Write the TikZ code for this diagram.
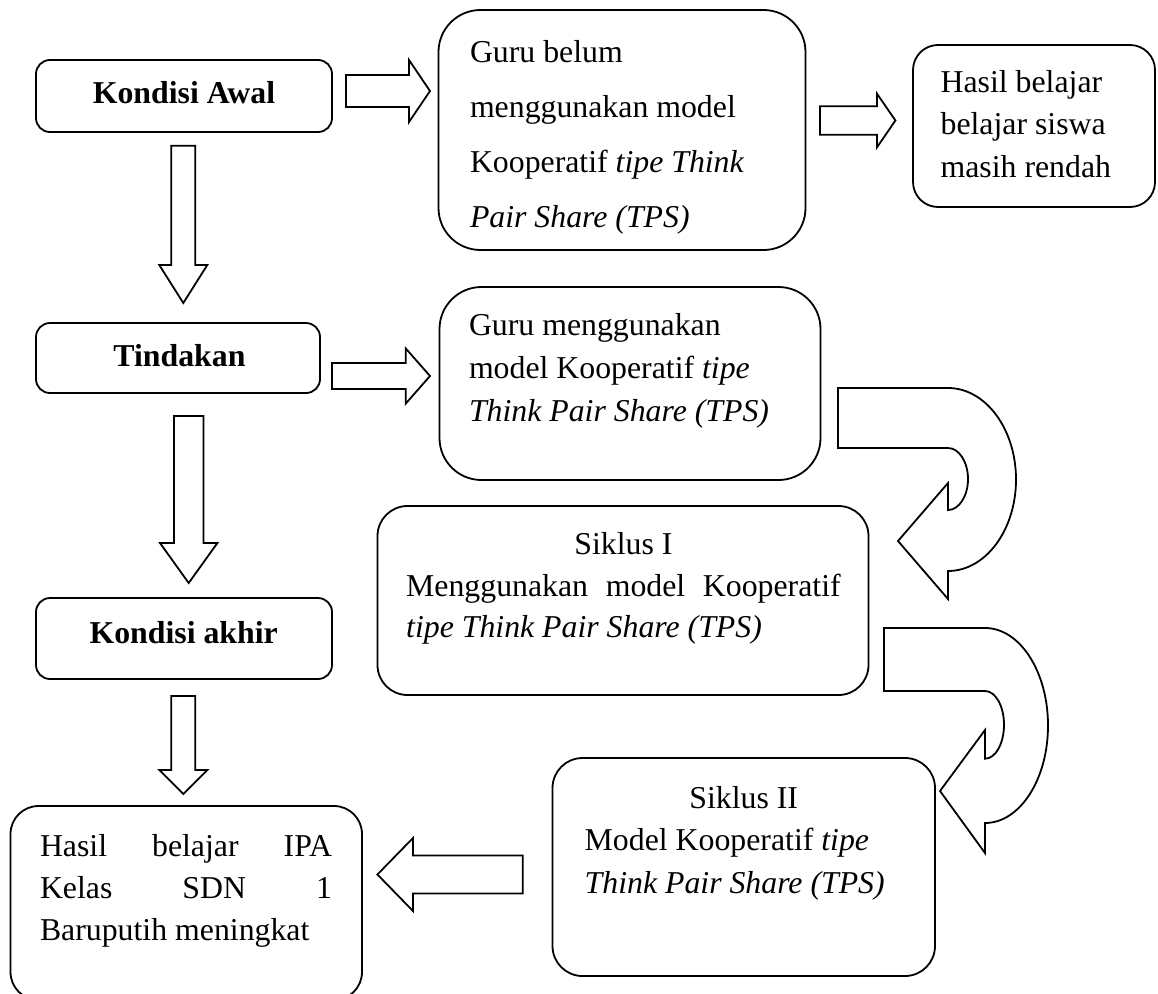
\documentclass[tikz,border=0pt]{standalone}
\usepackage{fontspec}
\setmainfont{Liberation Serif}
\usetikzlibrary{calc}
\tikzset{
  box/.style={draw, line width=1.8pt, inner sep=0pt, outer sep=0pt},
  blk/.style={draw, line width=1.8pt, line join=miter, fill=white},
  txt/.style={inner sep=0pt, outer sep=0pt, font=\fontsize{31.8}{42}\selectfont},
}
% block arrows: tail, tip, shaft half width, head half width, head length
\newcommand\rblock[5]{\draw[blk] ($(#1)+(0,-#3)$) -- ($(#2)+(-#5,-#3)$) -- ($(#2)+(-#5,-#4)$) -- (#2) -- ($(#2)+(-#5,#4)$) -- ($(#2)+(-#5,#3)$) -- ($(#1)+(0,#3)$) -- cycle;}
\newcommand\lblock[5]{\draw[blk] ($(#1)+(0,-#3)$) -- ($(#2)+(#5,-#3)$) -- ($(#2)+(#5,-#4)$) -- (#2) -- ($(#2)+(#5,#4)$) -- ($(#2)+(#5,#3)$) -- ($(#1)+(0,#3)$) -- cycle;}
\newcommand\dblock[5]{\draw[blk] ($(#1)+(-#3,0)$) -- ($(#2)+(-#3,-#5)$) -- ($(#2)+(-#4,-#5)$) -- (#2) -- ($(#2)+(#4,-#5)$) -- ($(#2)+(#3,-#5)$) -- ($(#1)+(#3,0)$) -- cycle;}
\begin{document}
\begin{tikzpicture}[x=1pt, y=-1pt]
\useasboundingbox (0,0) rectangle (1158,993);
\clip (0,0) rectangle (1158,993);

% boxes
\node[box, rounded corners=14pt, minimum width=296pt, minimum height=72pt] (ka) at (184,96) {};
\node[box, rounded corners=42pt, minimum width=367pt, minimum height=240pt] (gb) at (622,130) {};
\node[box, rounded corners=25pt, minimum width=242pt, minimum height=162pt] (hb) at (1034,126) {};
\node[box, rounded corners=14pt, minimum width=284pt, minimum height=70pt] (td) at (178,358) {};
\node[box, rounded corners=42pt, minimum width=381pt, minimum height=193pt] (gm) at (630,383.5) {};
\node[box, rounded corners=30pt, minimum width=491pt, minimum height=189pt] (s1) at (623,600.5) {};
\node[box, rounded corners=14pt, minimum width=296pt, minimum height=81pt] (kk) at (184,638.5) {};
\node[box, rounded corners=30pt, minimum width=382.5pt, minimum height=218pt] (s2) at (743.75,867) {};
\node[box, rounded corners=28pt, minimum width=351.5pt, minimum height=194pt] (hi) at (186.25,903) {};

% texts
\node[txt, anchor=base] (kat) at (184,103.3) {\textbf{Kondisi Awal}};
\node[txt, anchor=base west] (gbt) at (470,62) {\parbox[t]{330pt}{\baselineskip=55pt Guru belum\\menggunakan model\\Kooperatif \textit{tipe Think}\\\textit{Pair Share (TPS)}}};
\node[txt, anchor=base west] (hbt) at (940.6,92) {\parbox[t]{210pt}{\baselineskip=42.5pt Hasil belajar\\belajar siswa\\masih rendah}};
\node[txt, anchor=base] (tdt) at (179.5,366) {\textbf{Tindakan}};
\node[txt, anchor=base west] (gmt) at (469,335) {\parbox[t]{345pt}{\baselineskip=43pt Guru menggunakan\\model Kooperatif \textit{tipe}\\\textit{Think Pair Share (TPS)}}};
\node[txt, anchor=base west] (s1t) at (406.2,554.5) {\parbox[t]{434.5pt}{\baselineskip=41.5pt \makebox[434.5pt][c]{Siklus I}\\\makebox[434.5pt][s]{Menggunakan model Kooperatif}\\\textit{tipe Think Pair Share (TPS)}}};
\node[txt, anchor=base] (kkt) at (183.7,643) {\textbf{Kondisi akhir}};
\node[txt, anchor=base west] (s2t) at (584.7,808) {\parbox[t]{330pt}{\baselineskip=42.5pt \makebox[318pt][c]{Siklus II}\\Model Kooperatif \textit{tipe}\\\textit{Think Pair Share (TPS)}}};
\node[txt, anchor=base west] (hit) at (40,856) {\parbox[t]{300pt}{\baselineskip=42pt \makebox[292pt][s]{Hasil belajar IPA}\\\makebox[292pt][s]{Kelas SDN 1}\\Baruputih meningkat}};

% arrow coordinates
\coordinate (a1s) at (346,91);   \coordinate (a1e) at (430,91);
\coordinate (a2s) at (820,120.5); \coordinate (a2e) at (895.4,120.5);
\coordinate (a3s) at (332,376);  \coordinate (a3e) at (430,376);
\coordinate (d1s) at (183.3,145.7); \coordinate (d1e) at (183.3,303);
\coordinate (d2s) at (188.7,416);   \coordinate (d2e) at (188.7,583);
\coordinate (d3s) at (183.3,696);   \coordinate (d3e) at (183.3,794);
\coordinate (l1s) at (522.7,874.5); \coordinate (l1e) at (377.4,874.5);

\rblock{a1s}{a1e}{16}{31}{21}
\rblock{a2s}{a2e}{14.2}{26.8}{18.4}
\rblock{a3s}{a3e}{13}{27.5}{24.2}
\dblock{d1s}{d1e}{12}{24}{38}
\dblock{d2s}{d2e}{14.7}{28.7}{40}
\dblock{d3s}{d3e}{12}{24}{24}
\lblock{l1s}{l1e}{19}{36.5}{35.6}

% curved U-turn arrows
\draw[blk] (838,388) -- (948,388)
  .. controls (985.6,388) and (1016,429) .. (1016,479.5)
  .. controls (1016,530) and (985.6,571) .. (948,571)
  -- (948,599) -- (898,541) -- (948,483) -- (948,510)
  .. controls (959,510) and (968,496) .. (968,479)
  .. controls (968,462) and (959,448) .. (948,448)
  -- (838,448) -- cycle;
\draw[blk] (884,628) -- (985,628)
  .. controls (1019.8,628) and (1048,671.6) .. (1048,725.5)
  .. controls (1048,779.4) and (1019.8,823) .. (985,823)
  -- (985,853) -- (940,791) -- (985,730) -- (985,758.7)
  .. controls (995.5,758.7) and (1004,743.5) .. (1004,724.8)
  .. controls (1004,706.1) and (995.5,691) .. (985,691)
  -- (884,691) -- cycle;
\end{tikzpicture}
\end{document}
